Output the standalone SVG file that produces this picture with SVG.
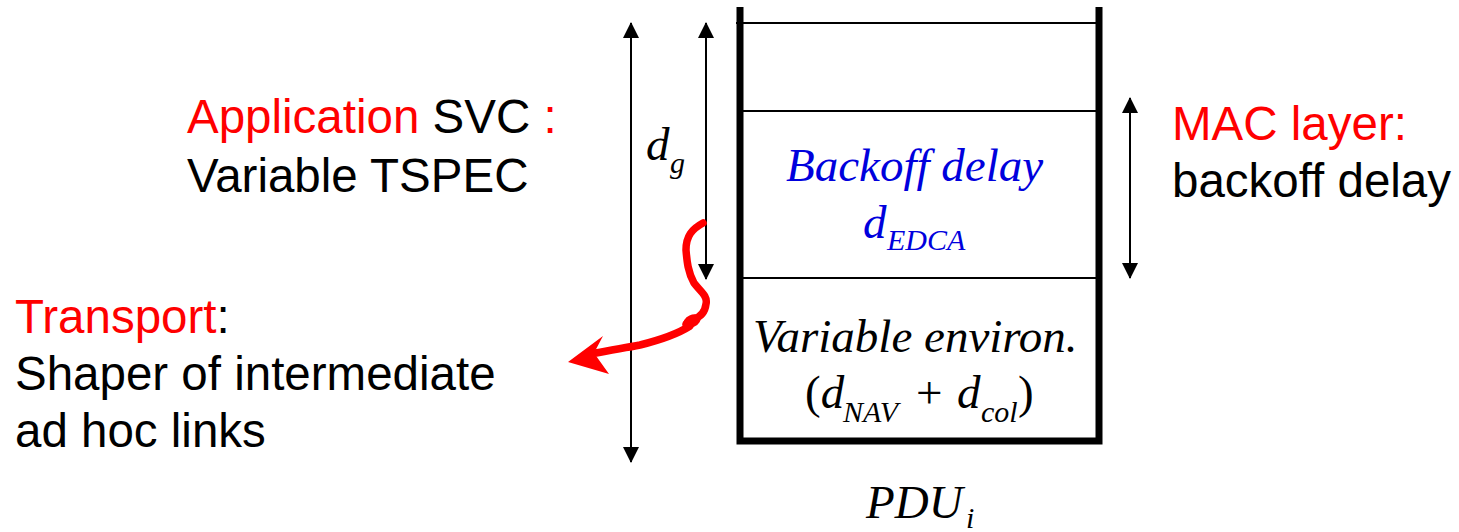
<svg xmlns="http://www.w3.org/2000/svg" width="1459" height="532" viewBox="0 0 1459 532">
<style>
.sans{font-family:"Liberation Sans",Arial,sans-serif;font-size:47.5px;fill:#000}
.red{fill:#ff0000}
.serif{font-family:"Liberation Serif","Times New Roman",serif;font-style:italic;font-size:47px;fill:#000}
.up{font-style:normal}
.sub{font-size:30px}
.blue{fill:#0000dd}
.thick{stroke:#000;stroke-width:7;fill:none}
.thin{stroke:#000;stroke-width:2;fill:none}
.dim{stroke:#000;stroke-width:2;fill:none;marker-start:url(#ah);marker-end:url(#ah)}
</style>
<defs>
<marker id="ah" markerUnits="userSpaceOnUse" viewBox="0 0 16 16" refX="15" refY="8" markerWidth="16" markerHeight="16" orient="auto-start-reverse">
<path d="M0,0 L16,8 L0,16 Z" fill="#000"/>
</marker>
</defs>
<rect width="1459" height="532" fill="#fff"/>
<g id="pdu-stack">
<line class="thin" x1="736" y1="23" x2="1099" y2="23"/>
<line class="thin" x1="740" y1="111" x2="1099" y2="111"/>
<line class="thin" x1="740" y1="278" x2="1099" y2="278"/>
<path class="thick" d="M740,7 V441 H1099 V7"/>
</g>
<g id="backoff-cell">
<text class="serif blue" x="786" y="181">Backoff delay</text>
<text class="serif blue" x="863" y="238">d<tspan class="sub" x="887" y="250">EDCA</tspan></text>
</g>
<g id="environ-cell">
<text class="serif" x="753" y="352">Variable environ.</text>
<text class="serif" x="805" y="408"><tspan class="up">(</tspan>d<tspan class="sub" x="843" y="422">NAV</tspan><tspan class="up" x="916" y="408">+</tspan><tspan x="957" y="408">d</tspan><tspan class="sub" x="981" y="422">col</tspan><tspan class="up" x="1018" y="408">)</tspan></text>
</g>
<g id="pdu-label">
<text class="serif" x="866" y="518">PDU<tspan class="sub" x="966" y="528">i</tspan></text>
</g>
<g id="dg-label">
<text class="serif" x="646" y="160">d<tspan class="sub" x="670" y="173">g</tspan></text>
</g>
<g id="app-label">
<text class="sans" x="187" y="133"><tspan class="red">Application</tspan> SVC <tspan class="red">:</tspan></text>
<text class="sans" x="187" y="192">Variable TSPEC</text>
</g>
<g id="mac-label">
<text class="sans red" x="1172" y="140">MAC layer:</text>
<text class="sans" x="1172" y="197">backoff delay</text>
</g>
<g id="transport-label">
<text class="sans" x="15" y="333"><tspan class="red">Transport</tspan>:</text>
<text class="sans" x="15" y="390">Shaper of intermediate</text>
<text class="sans" x="15" y="447">ad hoc links</text>
</g>
<g id="connectors">
<line class="dim" x1="631" y1="23" x2="631" y2="462"/>
<line class="dim" x1="706" y1="23" x2="706" y2="279"/>
<line class="dim" x1="1130" y1="98" x2="1130" y2="278"/>
<path d="M703,223 C692,229 686,236 686,250 C687,262 688,272 694,283 C700,291 708,296 706,304 C705,312 700,317 694,319 C686,322 683,326 690,326 C676,335 660,340 640,345 C625,348 610,350 596,353" fill="none" stroke="#ff0000" stroke-width="7.5" stroke-linecap="round" stroke-linejoin="round"/>
<ellipse cx="692" cy="321" rx="9" ry="6" transform="rotate(-25 692 321)" fill="#ff0000"/>
<path d="M568,362 L603,336 L594,353 L609,374 Z" fill="#ff0000"/>
</g>
</svg>
